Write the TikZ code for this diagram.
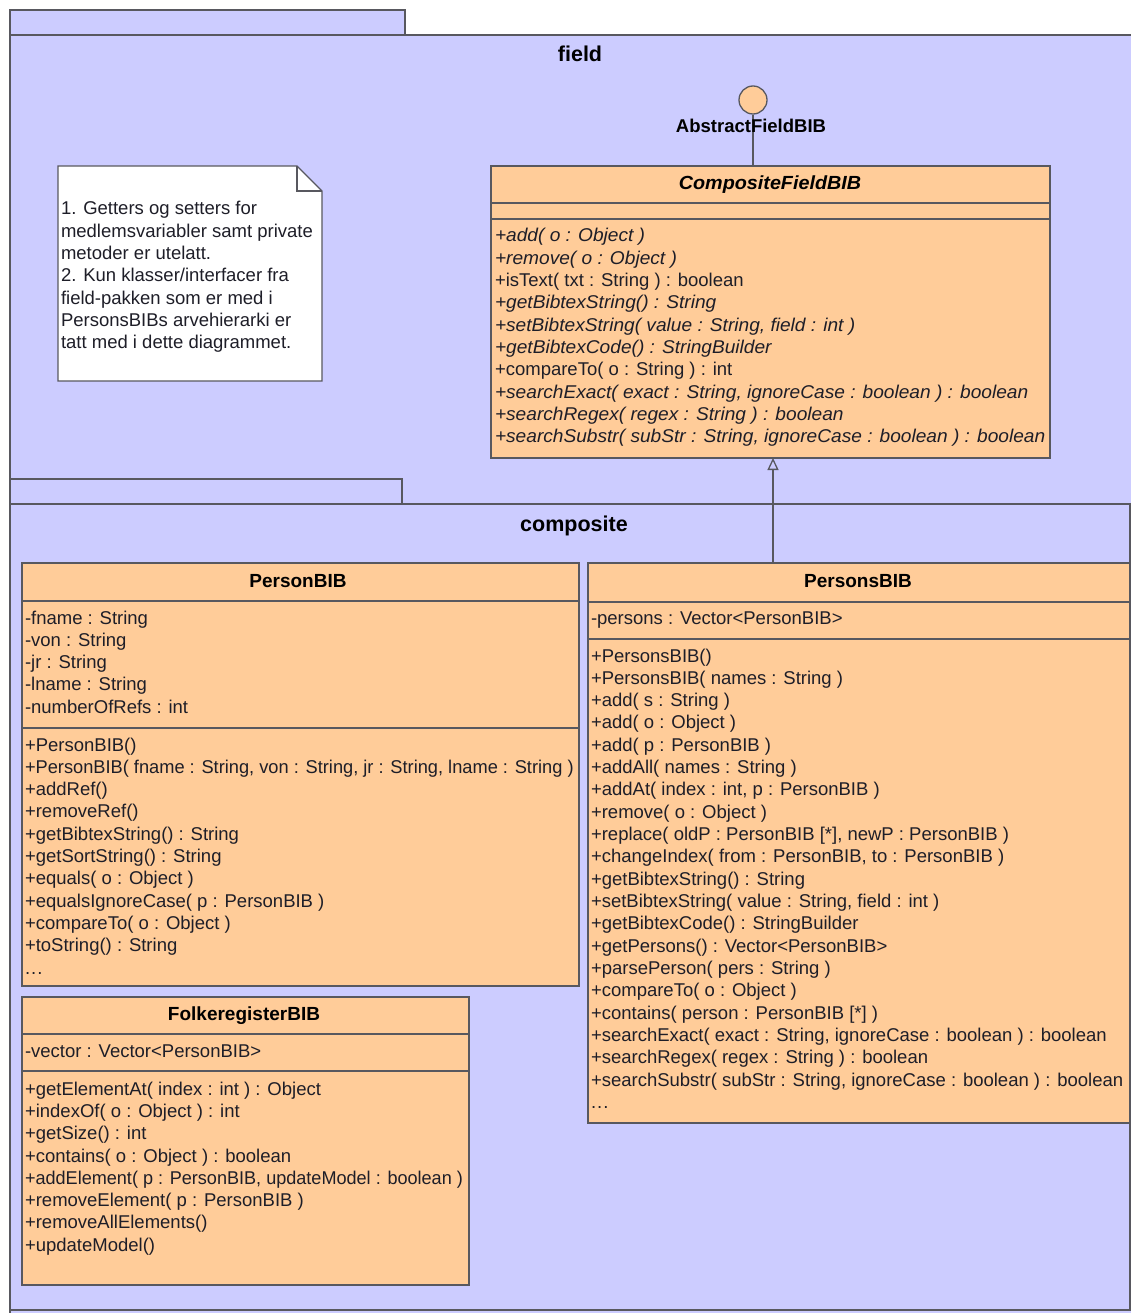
\documentclass[tikz,border=0pt]{standalone}
\usepackage{fontspec}
\setmainfont{Liberation Sans}
\usetikzlibrary{arrows.meta}
\definecolor{lav}{HTML}{CCCCFF}
\definecolor{orng}{HTML}{FFCC99}
\definecolor{bcol}{HTML}{58585F}
\definecolor{tcol}{HTML}{1E1E28}
\newcommand\txtfont{\fontsize{18.5}{22.33}\selectfont}
\newcommand\itx{\itshape\addfontfeature{FakeStretch=1.034}}
\newcommand\nrw[1]{\addfontfeature{FakeStretch=#1}}
\tikzset{
  pkgbox/.style={draw=bcol, fill=lav, line width=1.3pt},
  clsbox/.style={draw=bcol, fill=orng, line width=1.3pt, rectangle, inner sep=0pt, outer sep=0pt, anchor=north west},
  sepline/.style={draw=bcol, line width=1.3pt},
  txt/.style={anchor=base west, inner sep=0pt, outer sep=0pt, font=\txtfont, text=tcol},
  hdr/.style={anchor=base, inner sep=0pt, outer sep=0pt, font=\fontsize{19}{22}\selectfont\bfseries, text=black},
  pkgname/.style={anchor=base, inner sep=0pt, outer sep=0pt, font=\fontsize{21.5}{24}\selectfont\bfseries, text=black},
}
\begin{document}
\begin{tikzpicture}[x=1pt,y=-1pt]
\useasboundingbox (0,0) rectangle (1131,1313);
\clip (0,0) rectangle (1131,1313);
\fill[white] (0,0) rectangle (1131,1313);
% ---------- package field ----------
\draw[pkgbox] (10,10) rectangle (405,35);
\draw[pkgbox] (10,35) rectangle (1160,1340);
\node[pkgname] (fieldname) at (580,62) {field};
% note
\draw[draw=bcol, fill=white, line width=1.3pt] (58,166) -- (297,166) -- (322,191) -- (322,381) -- (58,381) -- cycle;
\draw[draw=bcol, line width=1.3pt] (297,166) -- (297,191) -- (322,191);
\foreach \myline [count=\i] in {
  {1. Getters og setters for},
  {medlemsvariabler samt private},
  {metoder er utelatt.},
  {2. Kun klasser/interfacer fra},
  {field-pakken som er med i},
  {PersonsBIBs arvehierarki er},
  {tatt med i dette diagrammet.}}
  \node[txt, name=note\i] at (61,{215+22.33*(\i-1)}) {\myline};
% CompositeFieldBIB
\node[clsbox, minimum width=559pt, minimum height=292pt] (composite) at (491,166) {};
\draw[sepline] (composite.west |- 0,203) -- (composite.east |- 0,203);
\draw[sepline] (composite.west |- 0,219) -- (composite.east |- 0,219);
\node[hdr, font=\fontsize{19}{22}\selectfont\bfseries\itshape\addfontfeature{FakeStretch=1.04}] (compositename) at (770,190) {CompositeFieldBIB};
\foreach \myline [count=\i] in {
  {\itx +add( o : Object )},
  {\itx +remove( o : Object )},
  {+isText( txt : String ) : boolean},
  {\itx +getBibtexString() : String},
  {\itx +setBibtexString( value : String, field : int )},
  {\itx +getBibtexCode() : StringBuilder},
  {+compareTo( o : String ) : int},
  {\itx +searchExact( exact : String, ignoreCase : boolean ) : boolean},
  {\itx +searchRegex( regex : String ) : boolean},
  {\itx +searchSubstr( subStr : String, ignoreCase : boolean ) : boolean}}
  \node[txt, name=cop\i] at (495,{242+22.33*(\i-1)}) {\myline};
% interface lollipop
\node[circle, draw=bcol, fill=orng, line width=1.3pt, minimum size=28pt, inner sep=0pt] (iface) at (753,100) {};
\draw[sepline] (iface.south) -- (iface.south |- composite.north);
\node[hdr, font=\fontsize{18.5}{22}\selectfont\bfseries] (ifacename) at (751,132.5) {AbstractFieldBIB};
% ---------- package composite ----------
\draw[pkgbox] (10,479) rectangle (402,504);
\draw[pkgbox] (10,504) rectangle (1130,1310);
\node[pkgname] (compname) at (574,531) {composite};
% PersonBIB
\node[clsbox, minimum width=557pt, minimum height=423pt] (person) at (22,563) {};
\draw[sepline] (person.west |- 0,601) -- (person.east |- 0,601);
\draw[sepline] (person.west |- 0,728) -- (person.east |- 0,728);
\node[hdr] (personname) at (298,587) {PersonBIB};
\foreach \myline [count=\i] in {
  {-fname : String},
  {-von : String},
  {-jr : String},
  {-lname : String},
  {-numberOfRefs : int}}
  \node[txt, name=pat\i] at (25,{624+22.33*(\i-1)}) {\myline};
\foreach \myline [count=\i] in {
  {+PersonBIB()},
  {\nrw{0.986}+PersonBIB( fname : String, von : String, jr : String, lname : String )},
  {+addRef()},
  {+removeRef()},
  {+getBibtexString() : String},
  {+getSortString() : String},
  {+equals( o : Object )},
  {+equalsIgnoreCase( p : PersonBIB )},
  {+compareTo( o : Object )},
  {+toString() : String}}
  \node[txt, name=pop\i] at (25,{751+22.33*(\i-1)}) {\myline};
\node[txt] (popdots) at (25,974.3) {.\kern1pt.\kern1pt.};
% PersonsBIB
\node[clsbox, minimum width=542pt, minimum height=560pt] (persons) at (588,563) {};
\draw[sepline] (persons.west |- 0,602) -- (persons.east |- 0,602);
\draw[sepline] (persons.west |- 0,639) -- (persons.east |- 0,639);
\node[hdr] (personsname) at (858,587) {PersonsBIB};
\node[txt] (psat1) at (591,624) {-persons : Vector<PersonBIB>};
\foreach \myline [count=\i] in {
  {+PersonsBIB()},
  {+PersonsBIB( names : String )},
  {+add( s : String )},
  {+add( o : Object )},
  {+add( p : PersonBIB )},
  {+addAll( names : String )},
  {+addAt( index : int, p : PersonBIB )},
  {+remove( o : Object )},
  {+replace( oldP : PersonBIB [*], newP : PersonBIB )},
  {+changeIndex( from : PersonBIB, to : PersonBIB )},
  {+getBibtexString() : String},
  {+setBibtexString( value : String, field : int )},
  {+getBibtexCode() : StringBuilder},
  {+getPersons() : Vector<PersonBIB>},
  {+parsePerson( pers : String )},
  {+compareTo( o : Object )},
  {+contains( person : PersonBIB [*] )},
  {+searchExact( exact : String, ignoreCase : boolean ) : boolean},
  {+searchRegex( regex : String ) : boolean},
  {+searchSubstr( subStr : String, ignoreCase : boolean ) : boolean}}
  \node[txt, name=psop\i] at (591,{662+22.33*(\i-1)}) {\myline};
\node[txt] (psopdots) at (591,1108.6) {.\kern1pt.\kern1pt.};
% FolkeregisterBIB
\node[clsbox, minimum width=447pt, minimum height=288pt] (folke) at (22,997) {};
\draw[sepline] (folke.west |- 0,1034) -- (folke.east |- 0,1034);
\draw[sepline] (folke.west |- 0,1071) -- (folke.east |- 0,1071);
\node[hdr] (folkename) at (244,1020) {FolkeregisterBIB};
\node[txt] (fat1) at (25,1057) {-vector : Vector<PersonBIB>};
\foreach \myline [count=\i] in {
  {+getElementAt( index : int ) : Object},
  {+indexOf( o : Object ) : int},
  {+getSize() : int},
  {+contains( o : Object ) : boolean},
  {\nrw{0.977}+addElement( p : PersonBIB, updateModel : boolean )},
  {+removeElement( p : PersonBIB )},
  {+removeAllElements()},
  {+updateModel()}}
  \node[txt, name=fop\i] at (25,{1095+22.33*(\i-1)}) {\myline};
% generalization
\coordinate (genx) at (773,0);
\draw[sepline, -{Triangle[open, length=12pt, width=11pt, line width=1.3pt]}] (persons.north -| genx) -- (composite.south -| genx);
\end{tikzpicture}
\end{document}
